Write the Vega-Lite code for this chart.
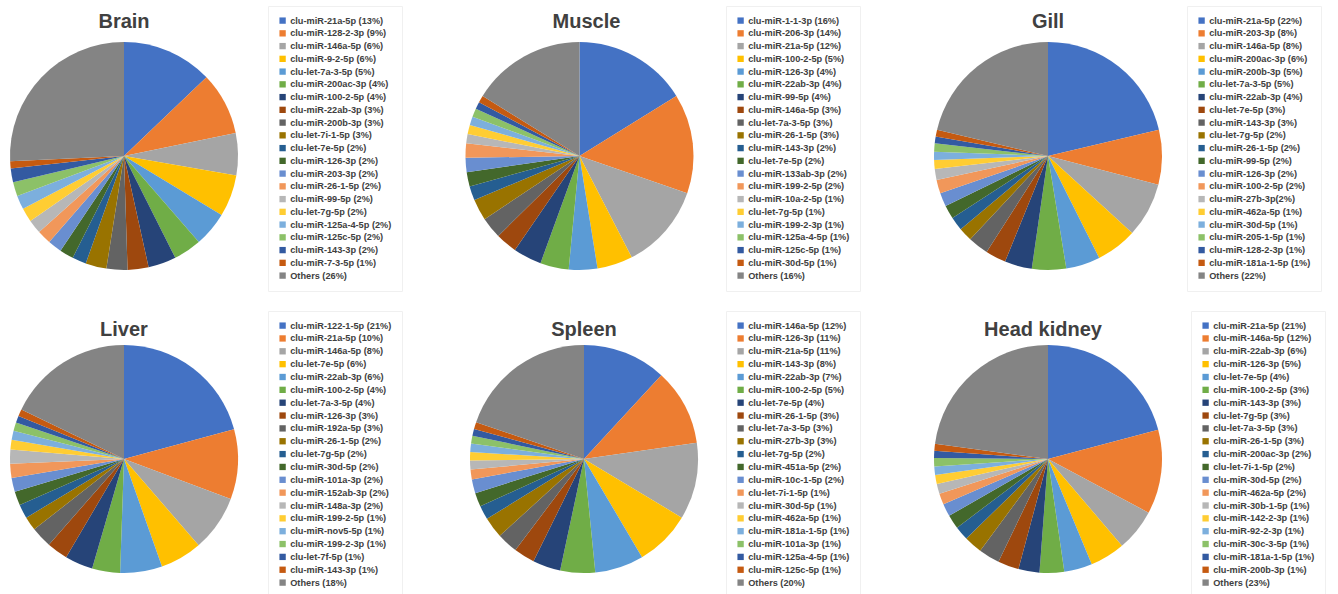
{
  "$schema": "https://vega.github.io/schema/vega-lite/v6.json",
  "padding": {"left": 10, "top": 5, "right": 5, "bottom": 5},
  "background": "white",
  "columns": 3,
  "bounds": "flush",
  "align": "none",
  "spacing": {"row": 75, "column": 227.5},
  "config": {
    "view": {"stroke": null},
    "title": {"font": "Liberation Sans", "fontSize": 20, "fontWeight": "bold", "color": "#404040", "frame": "group", "anchor": "middle", "offset": -26},
    "legend": {
      "orient": "none",
      "title": null,
      "symbolType": "square",
      "symbolSize": 40,
      "symbolStrokeWidth": 0,
      "labelFont": "Liberation Sans",
      "labelFontSize": 9.2,
      "labelFontWeight": "bold",
      "labelColor": "#404040",
      "labelOffset": 3,
      "rowPadding": 2.75,
      "padding": 10,
      "strokeColor": "#f0f0f0",
      "labelLimit": 300
    },
    "arc": {"stroke": null}
  },
  "datasets": {
    "brain": [
      {"k": 1, "label": "clu-miR-21a-5p (13%)", "pct": 13},
      {"k": 2, "label": "clu-miR-128-2-3p (9%)", "pct": 9},
      {"k": 3, "label": "clu-miR-146a-5p (6%)", "pct": 6},
      {"k": 4, "label": "clu-miR-9-2-5p (6%)", "pct": 6},
      {"k": 5, "label": "clu-let-7a-3-5p (5%)", "pct": 5},
      {"k": 6, "label": "clu-miR-200ac-3p (4%)", "pct": 4},
      {"k": 7, "label": "clu-miR-100-2-5p (4%)", "pct": 4},
      {"k": 8, "label": "clu-miR-22ab-3p (3%)", "pct": 3},
      {"k": 9, "label": "clu-miR-200b-3p (3%)", "pct": 3},
      {"k": 10, "label": "clu-let-7i-1-5p (3%)", "pct": 3},
      {"k": 11, "label": "clu-let-7e-5p (2%)", "pct": 2},
      {"k": 12, "label": "clu-miR-126-3p (2%)", "pct": 2},
      {"k": 13, "label": "clu-miR-203-3p (2%)", "pct": 2},
      {"k": 14, "label": "clu-miR-26-1-5p (2%)", "pct": 2},
      {"k": 15, "label": "clu-miR-99-5p (2%)", "pct": 2},
      {"k": 16, "label": "clu-let-7g-5p (2%)", "pct": 2},
      {"k": 17, "label": "clu-miR-125a-4-5p (2%)", "pct": 2},
      {"k": 18, "label": "clu-miR-125c-5p (2%)", "pct": 2},
      {"k": 19, "label": "clu-miR-143-3p (2%)", "pct": 2},
      {"k": 20, "label": "clu-miR-7-3-5p (1%)", "pct": 1},
      {"k": 21, "label": "Others (26%)", "pct": 26}
    ],
    "muscle": [
      {"k": 1, "label": "clu-miR-1-1-3p (16%)", "pct": 16},
      {"k": 2, "label": "clu-miR-206-3p (14%)", "pct": 14},
      {"k": 3, "label": "clu-miR-21a-5p (12%)", "pct": 12},
      {"k": 4, "label": "clu-miR-100-2-5p (5%)", "pct": 5},
      {"k": 5, "label": "clu-miR-126-3p (4%)", "pct": 4},
      {"k": 6, "label": "clu-miR-22ab-3p (4%)", "pct": 4},
      {"k": 7, "label": "clu-miR-99-5p (4%)", "pct": 4},
      {"k": 8, "label": "clu-miR-146a-5p (3%)", "pct": 3},
      {"k": 9, "label": "clu-let-7a-3-5p (3%)", "pct": 3},
      {"k": 10, "label": "clu-miR-26-1-5p (3%)", "pct": 3},
      {"k": 11, "label": "clu-miR-143-3p (2%)", "pct": 2},
      {"k": 12, "label": "clu-let-7e-5p (2%)", "pct": 2},
      {"k": 13, "label": "clu-miR-133ab-3p (2%)", "pct": 2},
      {"k": 14, "label": "clu-miR-199-2-5p (2%)", "pct": 2},
      {"k": 15, "label": "clu-miR-10a-2-5p (1%)", "pct": 1.3},
      {"k": 16, "label": "clu-let-7g-5p (1%)", "pct": 1.3},
      {"k": 17, "label": "clu-miR-199-2-3p (1%)", "pct": 1.2},
      {"k": 18, "label": "clu-miR-125a-4-5p (1%)", "pct": 1.2},
      {"k": 19, "label": "clu-miR-125c-5p (1%)", "pct": 1},
      {"k": 20, "label": "clu-miR-30d-5p (1%)", "pct": 1},
      {"k": 21, "label": "Others (16%)", "pct": 16}
    ],
    "gill": [
      {"k": 1, "label": "clu-miR-21a-5p (22%)", "pct": 22},
      {"k": 2, "label": "clu-miR-203-3p (8%)", "pct": 8},
      {"k": 3, "label": "clu-miR-146a-5p (8%)", "pct": 8},
      {"k": 4, "label": "clu-miR-200ac-3p (6%)", "pct": 6},
      {"k": 5, "label": "clu-miR-200b-3p (5%)", "pct": 5},
      {"k": 6, "label": "clu-let-7a-3-5p (5%)", "pct": 5},
      {"k": 7, "label": "clu-miR-22ab-3p (4%)", "pct": 4},
      {"k": 8, "label": "clu-let-7e-5p (3%)", "pct": 3},
      {"k": 9, "label": "clu-miR-143-3p (3%)", "pct": 3},
      {"k": 10, "label": "clu-let-7g-5p (2%)", "pct": 2},
      {"k": 11, "label": "clu-miR-26-1-5p (2%)", "pct": 2},
      {"k": 12, "label": "clu-miR-99-5p (2%)", "pct": 2},
      {"k": 13, "label": "clu-miR-126-3p (2%)", "pct": 2},
      {"k": 14, "label": "clu-miR-100-2-5p (2%)", "pct": 2},
      {"k": 15, "label": "clu-miR-27b-3p(2%)", "pct": 1.6},
      {"k": 16, "label": "clu-miR-462a-5p (1%)", "pct": 1.3},
      {"k": 17, "label": "clu-miR-30d-5p (1%)", "pct": 1.2},
      {"k": 18, "label": "clu-miR-205-1-5p (1%)", "pct": 1.2},
      {"k": 19, "label": "clu-miR-128-2-3p (1%)", "pct": 1},
      {"k": 20, "label": "clu-miR-181a-1-5p (1%)", "pct": 1},
      {"k": 21, "label": "Others (22%)", "pct": 22}
    ],
    "liver": [
      {"k": 1, "label": "clu-miR-122-1-5p (21%)", "pct": 21},
      {"k": 2, "label": "clu-miR-21a-5p (10%)", "pct": 10},
      {"k": 3, "label": "clu-miR-146a-5p (8%)", "pct": 8},
      {"k": 4, "label": "clu-let-7e-5p (6%)", "pct": 6},
      {"k": 5, "label": "clu-miR-22ab-3p (6%)", "pct": 6},
      {"k": 6, "label": "clu-miR-100-2-5p (4%)", "pct": 4},
      {"k": 7, "label": "clu-let-7a-3-5p (4%)", "pct": 4},
      {"k": 8, "label": "clu-miR-126-3p (3%)", "pct": 3},
      {"k": 9, "label": "clu-miR-192a-5p (3%)", "pct": 3},
      {"k": 10, "label": "clu-miR-26-1-5p (2%)", "pct": 2},
      {"k": 11, "label": "clu-let-7g-5p (2%)", "pct": 2},
      {"k": 12, "label": "clu-miR-30d-5p (2%)", "pct": 2},
      {"k": 13, "label": "clu-miR-101a-3p (2%)", "pct": 2},
      {"k": 14, "label": "clu-miR-152ab-3p (2%)", "pct": 2},
      {"k": 15, "label": "clu-miR-148a-3p (2%)", "pct": 2},
      {"k": 16, "label": "clu-miR-199-2-5p (1%)", "pct": 1.4},
      {"k": 17, "label": "clu-miR-nov5-5p (1%)", "pct": 1.3},
      {"k": 18, "label": "clu-miR-199-2-3p (1%)", "pct": 1.2},
      {"k": 19, "label": "clu-let-7f-5p (1%)", "pct": 1},
      {"k": 20, "label": "clu-miR-143-3p (1%)", "pct": 1},
      {"k": 21, "label": "Others (18%)", "pct": 18}
    ],
    "spleen": [
      {"k": 1, "label": "clu-miR-146a-5p (12%)", "pct": 12},
      {"k": 2, "label": "clu-miR-126-3p (11%)", "pct": 11},
      {"k": 3, "label": "clu-miR-21a-5p (11%)", "pct": 11},
      {"k": 4, "label": "clu-miR-143-3p (8%)", "pct": 8},
      {"k": 5, "label": "clu-miR-22ab-3p (7%)", "pct": 7},
      {"k": 6, "label": "clu-miR-100-2-5p (5%)", "pct": 5},
      {"k": 7, "label": "clu-let-7e-5p (4%)", "pct": 4},
      {"k": 8, "label": "clu-miR-26-1-5p (3%)", "pct": 3},
      {"k": 9, "label": "clu-let-7a-3-5p (3%)", "pct": 3},
      {"k": 10, "label": "clu-miR-27b-3p (3%)", "pct": 3},
      {"k": 11, "label": "clu-let-7g-5p (2%)", "pct": 2},
      {"k": 12, "label": "clu-miR-451a-5p (2%)", "pct": 2},
      {"k": 13, "label": "clu-miR-10c-1-5p (2%)", "pct": 2},
      {"k": 14, "label": "clu-let-7i-1-5p (1%)", "pct": 1.4},
      {"k": 15, "label": "clu-miR-30d-5p (1%)", "pct": 1.3},
      {"k": 16, "label": "clu-miR-462a-5p (1%)", "pct": 1.2},
      {"k": 17, "label": "clu-miR-181a-1-5p (1%)", "pct": 1.2},
      {"k": 18, "label": "clu-miR-101a-3p (1%)", "pct": 1.1},
      {"k": 19, "label": "clu-miR-125a-4-5p (1%)", "pct": 1},
      {"k": 20, "label": "clu-miR-125c-5p (1%)", "pct": 1},
      {"k": 21, "label": "Others (20%)", "pct": 20}
    ],
    "headkidney": [
      {"k": 1, "label": "clu-miR-21a-5p (21%)", "pct": 21},
      {"k": 2, "label": "clu-miR-146a-5p (12%)", "pct": 12},
      {"k": 3, "label": "clu-miR-22ab-3p (6%)", "pct": 6},
      {"k": 4, "label": "clu-miR-126-3p (5%)", "pct": 5},
      {"k": 5, "label": "clu-let-7e-5p (4%)", "pct": 4},
      {"k": 6, "label": "clu-miR-100-2-5p (3%)", "pct": 3.5},
      {"k": 7, "label": "clu-miR-143-3p (3%)", "pct": 3},
      {"k": 8, "label": "clu-let-7g-5p (3%)", "pct": 3},
      {"k": 9, "label": "clu-let-7a-3-5p (3%)", "pct": 3},
      {"k": 10, "label": "clu-miR-26-1-5p (3%)", "pct": 2.6},
      {"k": 11, "label": "clu-miR-200ac-3p (2%)", "pct": 2},
      {"k": 12, "label": "clu-let-7i-1-5p (2%)", "pct": 2},
      {"k": 13, "label": "clu-miR-30d-5p (2%)", "pct": 1.8},
      {"k": 14, "label": "clu-miR-462a-5p (2%)", "pct": 1.6},
      {"k": 15, "label": "clu-miR-30b-1-5p (1%)", "pct": 1.4},
      {"k": 16, "label": "clu-miR-142-2-3p (1%)", "pct": 1.3},
      {"k": 17, "label": "clu-miR-92-2-3p (1%)", "pct": 1.2},
      {"k": 18, "label": "clu-miR-30c-3-5p (1%)", "pct": 1.2},
      {"k": 19, "label": "clu-miR-181a-1-5p (1%)", "pct": 1},
      {"k": 20, "label": "clu-miR-200b-3p (1%)", "pct": 1},
      {"k": 21, "label": "Others (23%)", "pct": 23}
    ]
  },
  "concat": [
    {
      "title": {"text": "Brain"},
      "width": 228, "height": 228,
      "data": {"name": "brain"},
      "mark": {"type": "arc"},
      "encoding": {
        "theta": {"field": "pct", "type": "quantitative", "stack": true},
        "order": {"field": "k", "type": "quantitative"},
        "color": {"field": "label", "type": "nominal", "sort": {"field": "k", "op": "min"},
          "scale": {"range": ["#4472C4","#ED7D31","#A5A5A5","#FFC000","#5B9BD5","#70AD47","#264478","#9E480E","#636363","#997300","#255E91","#43682B","#698ED0","#F1975A","#B7B7B7","#FFCD33","#7CAFDD","#8CC168","#335AA1","#C55A11","#848484"]},
          "legend": {"legendX": 258, "legendY": -36}}
      }
    },
    {
      "title": {"text": "Muscle", "dx": 7},
      "width": 228, "height": 228,
      "data": {"name": "muscle"},
      "mark": {"type": "arc"},
      "encoding": {
        "theta": {"field": "pct", "type": "quantitative", "stack": true},
        "order": {"field": "k", "type": "quantitative"},
        "color": {"field": "label", "type": "nominal", "sort": {"field": "k", "op": "min"},
          "scale": {"range": ["#4472C4","#ED7D31","#A5A5A5","#FFC000","#5B9BD5","#70AD47","#264478","#9E480E","#636363","#997300","#255E91","#43682B","#698ED0","#F1975A","#B7B7B7","#FFCD33","#7CAFDD","#8CC168","#335AA1","#C55A11","#848484"]},
          "legend": {"legendX": 260.5, "legendY": -36}}
      }
    },
    {
      "title": {"text": "Gill"},
      "width": 236, "height": 228,
      "data": {"name": "gill"},
      "mark": {"type": "arc"},
      "encoding": {
        "theta": {"field": "pct", "type": "quantitative", "stack": true},
        "order": {"field": "k", "type": "quantitative"},
        "color": {"field": "label", "type": "nominal", "sort": {"field": "k", "op": "min"},
          "scale": {"range": ["#4472C4","#ED7D31","#A5A5A5","#FFC000","#5B9BD5","#70AD47","#264478","#9E480E","#636363","#997300","#255E91","#43682B","#698ED0","#F1975A","#B7B7B7","#FFCD33","#7CAFDD","#8CC168","#335AA1","#C55A11","#848484"]},
          "legend": {"legendX": 257, "legendY": -36}}
      }
    },
    {
      "title": {"text": "Liver", "offset": -29},
      "width": 228, "height": 228,
      "data": {"name": "liver"},
      "mark": {"type": "arc"},
      "encoding": {
        "theta": {"field": "pct", "type": "quantitative", "stack": true},
        "order": {"field": "k", "type": "quantitative"},
        "color": {"field": "label", "type": "nominal", "sort": {"field": "k", "op": "min"},
          "scale": {"range": ["#4472C4","#ED7D31","#A5A5A5","#FFC000","#5B9BD5","#70AD47","#264478","#9E480E","#636363","#997300","#255E91","#43682B","#698ED0","#F1975A","#B7B7B7","#FFCD33","#7CAFDD","#8CC168","#335AA1","#C55A11","#848484"]},
          "legend": {"legendX": 258, "legendY": -34, "rowPadding": 2.85}}
      }
    },
    {
      "title": {"text": "Spleen", "offset": -29},
      "width": 237, "height": 228,
      "data": {"name": "spleen"},
      "mark": {"type": "arc"},
      "encoding": {
        "theta": {"field": "pct", "type": "quantitative", "stack": true},
        "order": {"field": "k", "type": "quantitative"},
        "color": {"field": "label", "type": "nominal", "sort": {"field": "k", "op": "min"},
          "scale": {"range": ["#4472C4","#ED7D31","#A5A5A5","#FFC000","#5B9BD5","#70AD47","#264478","#9E480E","#636363","#997300","#255E91","#43682B","#698ED0","#F1975A","#B7B7B7","#FFCD33","#7CAFDD","#8CC168","#335AA1","#C55A11","#848484"]},
          "legend": {"legendX": 260.5, "legendY": -34, "rowPadding": 2.85}}
      }
    },
    {
      "title": {"text": "Head kidney", "dx": -5, "offset": -29},
      "width": 236, "height": 228,
      "data": {"name": "headkidney"},
      "mark": {"type": "arc"},
      "encoding": {
        "theta": {"field": "pct", "type": "quantitative", "stack": true},
        "order": {"field": "k", "type": "quantitative"},
        "color": {"field": "label", "type": "nominal", "sort": {"field": "k", "op": "min"},
          "scale": {"range": ["#4472C4","#ED7D31","#A5A5A5","#FFC000","#5B9BD5","#70AD47","#264478","#9E480E","#636363","#997300","#255E91","#43682B","#698ED0","#F1975A","#B7B7B7","#FFCD33","#7CAFDD","#8CC168","#335AA1","#C55A11","#848484"]},
          "legend": {"legendX": 261, "legendY": -34, "rowPadding": 2.85}}
      }
    }
  ],
  "resolve": {"scale": {"color": "independent", "theta": "independent"}}
}
